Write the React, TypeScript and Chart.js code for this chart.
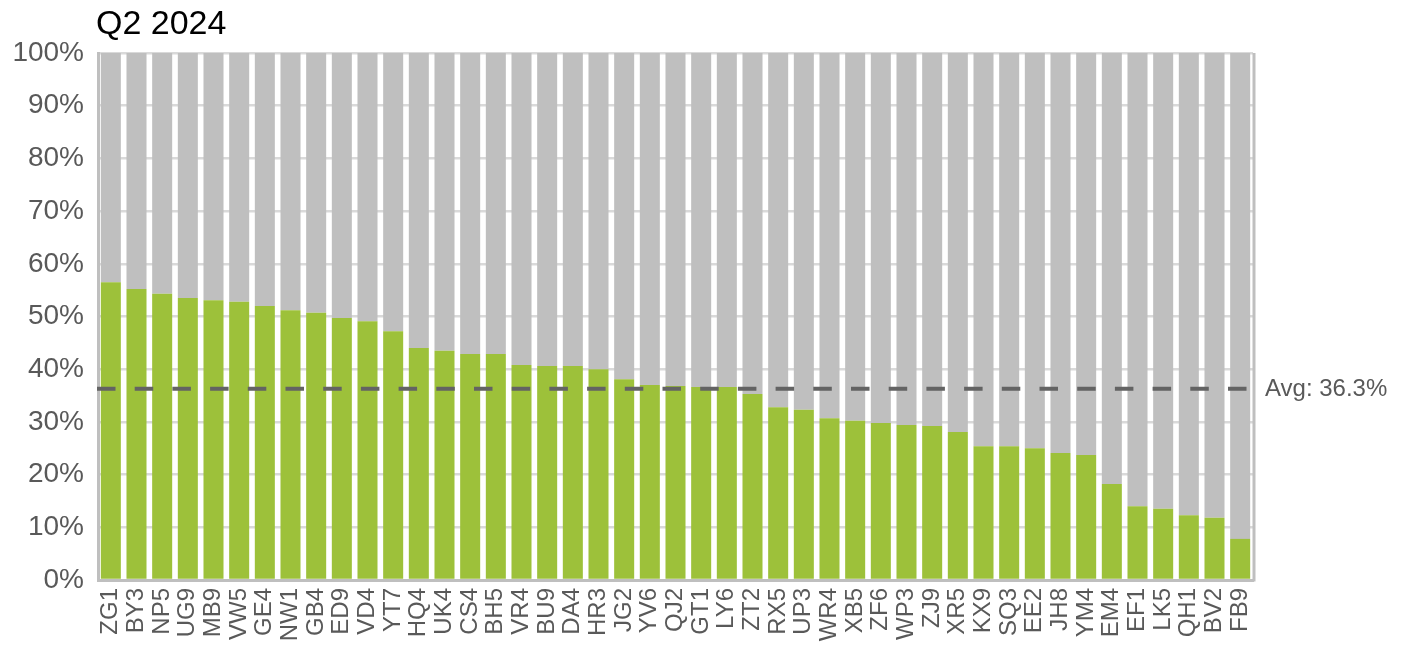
import React, { useEffect, useRef } from "react";
import { Chart, registerables } from "chart.js";

Chart.register(...registerables);

const TITLE = "Q2 2024";
const CATEGORIES = [
  "ZG1", "BY3", "NP5", "UG9", "MB9", "VW5", "GE4", "NW1", "GB4", "ED9",
  "VD4", "YT7", "HQ4", "UK4", "CS4", "BH5", "VR4", "BU9", "DA4", "HR3",
  "JG2", "YV6", "QJ2", "GT1", "LY6", "ZT2", "RX5", "UP3", "WR4", "XB5",
  "ZF6", "WP3", "ZJ9", "XR5", "KX9", "SQ3", "EE2", "JH8", "YM4", "EM4",
  "EF1", "LK5", "QH1", "BV2", "FB9",
];
const SHARE = [
  56.5, 55.2, 54.3, 53.5, 53.1, 52.8, 52.0, 51.2, 50.7, 49.7,
  49.1, 47.2, 44.0, 43.5, 42.9, 42.9, 40.8, 40.6, 40.6, 40.0,
  38.1, 37.0, 36.8, 36.6, 36.6, 35.3, 32.8, 32.3, 30.7, 30.2,
  29.8, 29.4, 29.2, 28.1, 25.4, 25.4, 25.0, 24.1, 23.7, 18.2,
  14.0, 13.5, 12.3, 11.8, 7.8,
];
const REMAINDER = SHARE.map((v) => 100 - v);
const AVG = 36.3;
const AVG_LABEL = "Avg: 36.3%";

const FONT = "'Liberation Sans', Arial, sans-serif";

export default function App() {
  const ref = useRef<HTMLCanvasElement | null>(null);

  useEffect(() => {
    const canvas = ref.current;
    if (!canvas) return;

    const overlay = {
      id: "overlay",
      afterDatasetsDraw(chart: any) {
        const { ctx, chartArea } = chart;
        const y = chart.scales.y.getPixelForValue(AVG);
        ctx.save();
        // right border
        ctx.strokeStyle = "#bfbfbf";
        ctx.lineWidth = 3;
        ctx.beginPath();
        ctx.moveTo(chartArea.right + 1, chartArea.top);
        ctx.lineTo(chartArea.right + 1, chartArea.bottom + 1.5);
        ctx.stroke();
        // average line
        ctx.strokeStyle = "#636363";
        ctx.lineWidth = 4;
        ctx.setLineDash([18.5, 19.2]);
        ctx.beginPath();
        ctx.moveTo(chartArea.left - 1, y);
        ctx.lineTo(chartArea.right, y);
        ctx.stroke();
        ctx.setLineDash([]);
        // avg label
        ctx.fillStyle = "#595959";
        ctx.font = `24px ${FONT}`;
        ctx.textAlign = "left";
        ctx.textBaseline = "middle";
        ctx.fillText(AVG_LABEL, chartArea.right + 12, y + 1);
        // title
        ctx.fillStyle = "#000000";
        ctx.font = `34px ${FONT}`;
        ctx.textBaseline = "alphabetic";
        ctx.fillText(TITLE, 96, 34);
        ctx.restore();
      },
    };

    const chart = new Chart(canvas, {
      type: "bar",
      data: {
        labels: CATEGORIES,
        datasets: [
          {
            data: SHARE,
            backgroundColor: "#9dc13a",
            barPercentage: 0.78,
            categoryPercentage: 1,
            borderWidth: 0,
          },
          {
            data: REMAINDER,
            backgroundColor: "#bfbfbf",
            barPercentage: 0.78,
            categoryPercentage: 1,
            borderWidth: 0,
          },
        ],
      },
      options: {
        animation: false,
        responsive: false,
        maintainAspectRatio: false,
        devicePixelRatio: 1,
        layout: { padding: { top: 53, right: 157, bottom: 0, left: 0 } },
        plugins: {
          legend: { display: false },
          tooltip: { enabled: false },
          title: { display: false },
        },
        scales: {
          x: {
            stacked: true,
            grid: { display: false, drawTicks: false },
            border: { display: true, color: "#bfbfbf", width: 3 },
            ticks: {
              autoSkip: false,
              maxRotation: 90,
              minRotation: 90,
              padding: 8,
              color: "#595959",
              font: { family: FONT, size: 24 },
            },
            afterFit(scale: any) {
              scale.height = 70;
            },
          },
          y: {
            stacked: true,
            min: 0,
            max: 100,
            ticks: {
              stepSize: 5,
              padding: 14,
              color: "#595959",
              font: { family: FONT, size: 28 },
              callback: (v: any) => (Number(v) % 10 === 0 ? `${v}%` : ""),
            },
            grid: {
              drawTicks: false,
              color: (c: any) =>
                c.tick && c.tick.value % 10 === 0 ? "#d9d9d9" : "#e6e6e6",
              lineWidth: (c: any) =>
                c.tick && c.tick.value % 10 === 0 ? 2.5 : 2,
            },
            border: { display: true, color: "#bfbfbf", width: 3 },
            afterFit(scale: any) {
              scale.width = 98;
            },
          },
        },
      },
      plugins: [overlay],
    });

    return () => chart.destroy();
  }, []);

  return (
    <div style={{ position: "absolute", left: 0, top: 0, width: 1410, height: 650, background: "#ffffff" }}>
      <canvas ref={ref} width={1410} height={650} style={{ width: 1410, height: 650, display: "block" }} />
    </div>
  );
}
